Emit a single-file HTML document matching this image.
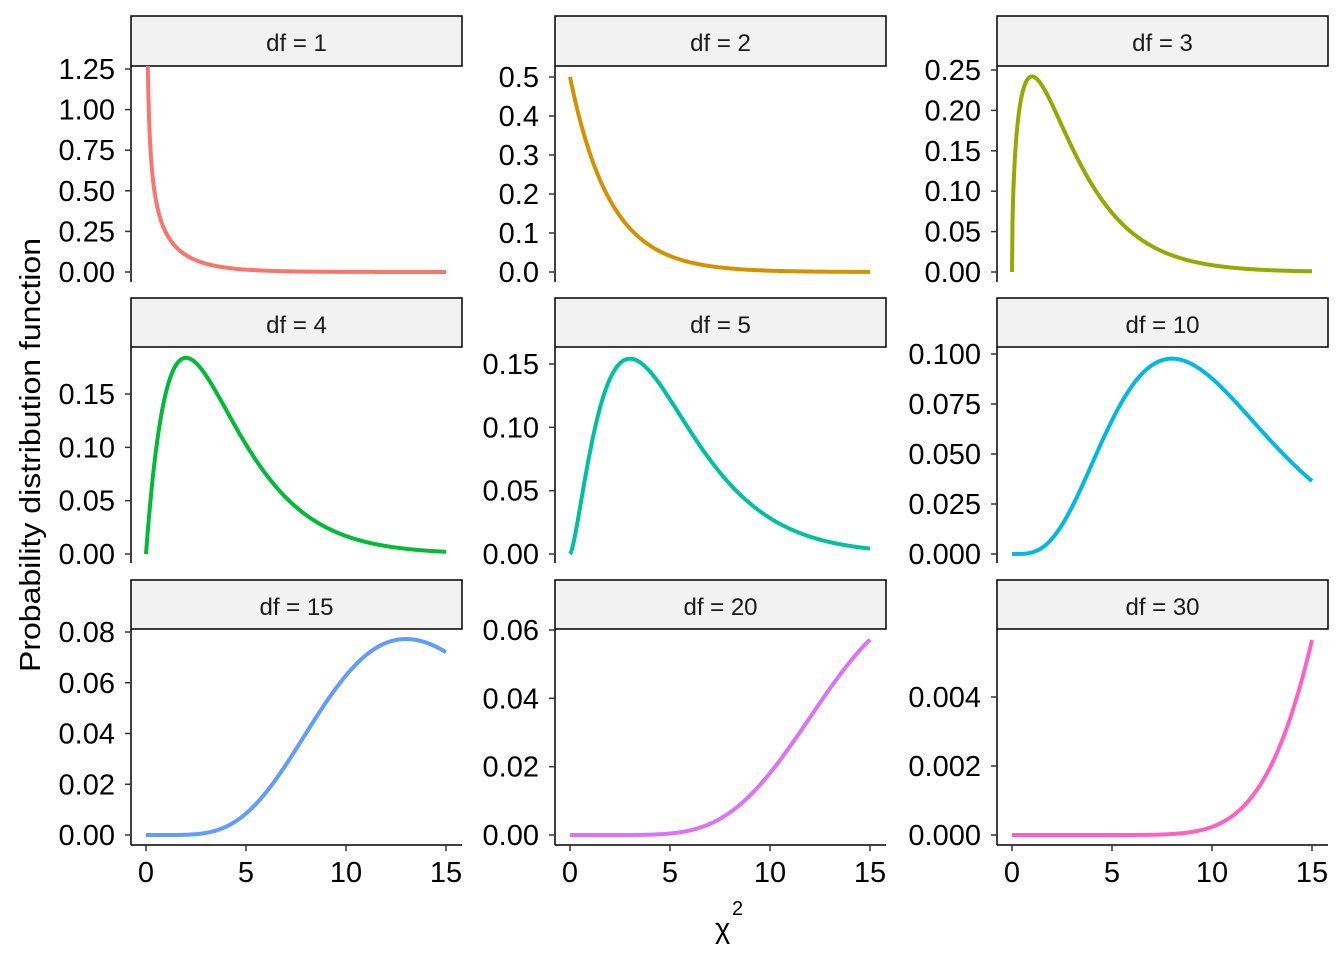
<!DOCTYPE html>
<html><head><meta charset="utf-8"><style>
body{margin:0;background:#fff}
svg{display:block}
text{font-family:"Liberation Sans",Arial,sans-serif}
</style></head><body>
<svg id="s" width="1344" height="960" xmlns="http://www.w3.org/2000/svg"></svg>
<script>
var s=document.getElementById('s'),h='';
var cols=[131,555,997],W=331;
var rows=[[16,66,282],[298,347,563],[580,629,845]];
var P=[
[1,0,272,1.25,69,['0.00','0.25','0.50','0.75','1.00','1.25'],0.25,'#F8766D'],
[2,0,272,0.5,77,['0.0','0.1','0.2','0.3','0.4','0.5'],0.1,'#D39200'],
[3,0,272,0.25,70,['0.00','0.05','0.10','0.15','0.20','0.25'],0.05,'#93AA00'],
[4,0,554,0.15,394,['0.00','0.05','0.10','0.15'],0.05,'#00BA38'],
[5,0,554,0.15,364,['0.00','0.05','0.10','0.15'],0.05,'#00C19F'],
[10,0,554,0.1,354,['0.000','0.025','0.050','0.075','0.100'],0.025,'#00B9E3'],
[15,0,835,0.08,632,['0.00','0.02','0.04','0.06','0.08'],0.02,'#619CFF'],
[20,0,835,0.06,630,['0.00','0.02','0.04','0.06'],0.02,'#DB72FB'],
[30,0,835,0.004,697,['0.000','0.002','0.004'],0.002,'#FF61C3']];
function gam(k){var g=(k%2==0)?1:Math.sqrt(Math.PI),a=(k%2==0)?1:0.5;while(a<k/2){g*=a;a+=1;}return g;}
function pdf(x,k){if(x<=0)return k==2?0.5:(k==1?1e9:0);return Math.pow(x,k/2-1)*Math.exp(-x/2)/(Math.pow(2,k/2)*gam(k));}
h+='<defs>';
for(var i=0;i<9;i++){var c=cols[i%3],r=rows[Math.floor(i/3)];h+='<clipPath id="c'+i+'"><rect x="'+c+'" y="'+r[1]+'" width="'+W+'" height="'+(r[2]-r[1])+'"/></clipPath>';}
h+='</defs>';
for(var i=0;i<9;i++){
 var p=P[i],c=cols[i%3],ri=Math.floor(i/3),r=rows[ri];
 var x0=c+15,sc=20;
 var yv=function(v){return p[2]+(p[4]-p[2])*v/p[3];};
 h+='<rect x="'+c+'" y="'+r[0]+'" width="'+W+'" height="'+(r[1]-r[0])+'" fill="#F2F2F2" stroke="#000" stroke-width="1.5"/>';
 h+='<text x="'+(c+W/2)+'" y="'+(r[0]+35)+'" font-size="24" fill="#1a1a1a" text-anchor="middle">df = '+p[0]+'</text>';
 var d='';
 for(var j=0;j<=600;j++){var x=j*15/600;if(p[0]==1&&x<0.005)x=0.005;var y=yv(pdf(x,p[0]));if(y<r[1]-20)y=r[1]-20;d+=(j?'L':'M')+(x0+x*sc).toFixed(2)+','+y.toFixed(2);}
 h+='<path d="'+d+'" fill="none" stroke="'+p[7]+'" stroke-width="4" clip-path="url(#c'+i+')"/>';
 h+='<line x1="'+c+'" y1="'+r[1]+'" x2="'+c+'" y2="'+r[2]+'" stroke="#000" stroke-width="1.5"/>';
 for(var t=0;t<p[5].length;t++){var y=yv(t*p[6]);
  h+='<line x1="'+(c-6)+'" y1="'+y+'" x2="'+c+'" y2="'+y+'" stroke="#333" stroke-width="1.5"/>';
  h+='<text x="'+(c-16)+'" y="'+(y+10)+'" font-size="29" text-anchor="end" fill="#000">'+p[5][t]+'</text>';}
 if(ri==2){h+='<line x1="'+c+'" y1="845" x2="'+(c+W)+'" y2="845" stroke="#000" stroke-width="1.5"/>';
  for(var t=0;t<=15;t+=5){var x=x0+t*sc;h+='<line x1="'+x+'" y1="845" x2="'+x+'" y2="851" stroke="#333" stroke-width="1.5"/><text x="'+x+'" y="882" font-size="29" text-anchor="middle" fill="#000">'+t+'</text>';}}
}
h+='<text transform="translate(40,455) rotate(-90)" font-size="29" text-anchor="middle" textLength="434" lengthAdjust="spacingAndGlyphs">Probability distribution function</text>';
h+='<text x="715" y="938" font-size="29">χ</text><text x="732" y="915" font-size="20">2</text>';
s.innerHTML=h;
</script>
</body></html>
